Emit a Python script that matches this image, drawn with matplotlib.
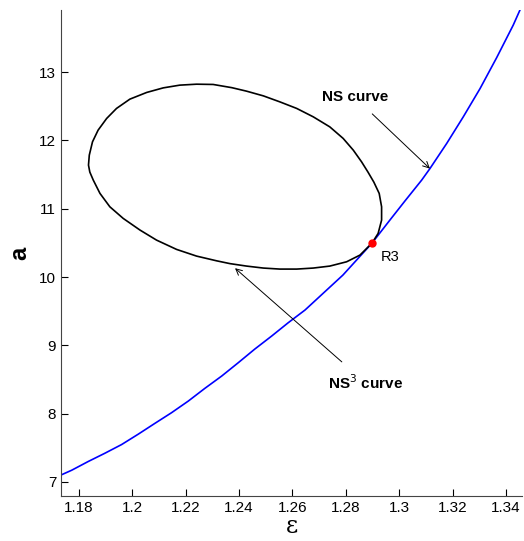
import matplotlib.pyplot as plt
import numpy as np

plt.rcParams['font.family'] = ['Liberation Sans', 'DejaVu Sans']

# NS curve (blue)
ns_eps = [1.1733, 1.1773, 1.1835, 1.1897, 1.1960, 1.2022, 1.2085, 1.2147,
          1.2210, 1.2272, 1.2335, 1.2397, 1.2459, 1.2522, 1.2584, 1.2647,
          1.2718, 1.2789, 1.2898, 1.2965, 1.3021, 1.3084, 1.3115, 1.3178,
          1.3240, 1.3303, 1.3365, 1.3427, 1.3452]
ns_a = [7.102, 7.172, 7.300, 7.420, 7.548, 7.699, 7.859, 8.014,
        8.185, 8.371, 8.551, 8.746, 8.946, 9.136, 9.331, 9.517,
        9.773, 10.029, 10.497, 10.834, 11.112, 11.419, 11.588, 11.957,
        12.346, 12.761, 13.212, 13.688, 13.907]

# NS^3 curve (closed loop, black)
ns3_eps = [1.2898, 1.2921, 1.2934, 1.2934, 1.2925, 1.2905, 1.2883, 1.2859,
           1.2828, 1.2790, 1.2740, 1.2678, 1.2616, 1.2553, 1.2491, 1.2428,
           1.2373, 1.2303, 1.2241, 1.2178, 1.2116, 1.2054, 1.1991, 1.1941,
           1.1904, 1.1872, 1.1851, 1.1839, 1.1836, 1.1841, 1.1854, 1.1879,
           1.1916, 1.1966, 1.2029, 1.2091, 1.2166, 1.2241, 1.2316, 1.2366,
           1.2428, 1.2491, 1.2553, 1.2616, 1.2678, 1.2740, 1.2803, 1.2853,
           1.2898]
ns3_a = [10.497, 10.639, 10.834, 11.029, 11.225, 11.390, 11.537, 11.687,
         11.858, 12.030, 12.199, 12.346, 12.469, 12.565, 12.653, 12.722,
         12.773, 12.820, 12.824, 12.810, 12.770, 12.703, 12.605, 12.469,
         12.322, 12.151, 11.980, 11.785, 11.639, 11.537, 11.419, 11.225,
         11.029, 10.859, 10.688, 10.541, 10.405, 10.307, 10.238, 10.197,
         10.161, 10.132, 10.117, 10.117, 10.132, 10.161, 10.224, 10.322,
         10.497]

r3 = (1.2898, 10.497)

x_ticks = [1.18, 1.2, 1.22, 1.24, 1.26, 1.28, 1.3, 1.32, 1.34]
x_labels = ['1.18', '1.2', '1.22', '1.24', '1.26', '1.28', '1.3', '1.32', '1.34']
y_ticks = [7, 8, 9, 10, 11, 12, 13]

fig = plt.figure(figsize=(5.24, 5.41), dpi=100)
ax = fig.add_axes([0.1164, 0.0832, 0.8798, 0.8983])

ax.plot(ns_eps, ns_a, color='blue', lw=1.2, solid_joinstyle='round')
ax.plot(ns3_eps, ns3_a, color='black', lw=1.2, solid_joinstyle='round')
ax.plot(r3[0], r3[1], 'o', color='red', ms=5)

ax.annotate('NS curve', xy=(1.3115, 11.588), xytext=(1.2834, 12.63),
            fontsize=11, fontweight='bold', ha='center', va='center',
            arrowprops=dict(arrowstyle='->', color='black', lw=0.7,
                            shrinkA=7, shrinkB=0))
ax.annotate('NS$^3$ curve', xy=(1.2385, 10.13), xytext=(1.2872, 8.46),
            fontsize=11, fontweight='bold', ha='center', va='center',
            arrowprops=dict(arrowstyle='->', color='black', lw=0.7,
                            shrinkA=9, shrinkB=0))
ax.text(1.2965, 10.29, 'R3', fontsize=10.5, ha='center', va='center')

ax.set_xlim(1.1733, 1.346)
ax.set_ylim(6.795, 13.91)
ax.set_xticks(x_ticks)
ax.set_xticklabels(x_labels)
ax.set_yticks(y_ticks)
ax.tick_params(direction='in', length=5, labelsize=11, colors='black')
ax.spines['top'].set_visible(False)
ax.spines['right'].set_visible(False)
for s in ['left', 'bottom']:
    ax.spines[s].set_color('#444444')

ax.set_xlabel('ε', fontsize=17, family='DejaVu Serif', labelpad=0)
ax.set_ylabel('a', fontsize=17, fontweight='bold', labelpad=6)

plt.savefig('out.png', dpi=100)
